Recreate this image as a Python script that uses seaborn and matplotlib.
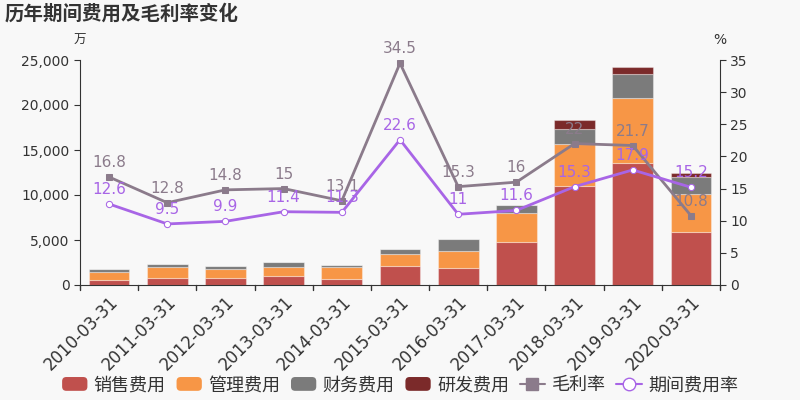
import numpy as np
import pandas as pd
import matplotlib
matplotlib.use("Agg")
import matplotlib.pyplot as plt
import seaborn as sns
from matplotlib.patches import FancyBboxPatch
from matplotlib.lines import Line2D
from matplotlib.legend_handler import HandlerPatch

sns.set_style("white")
plt.rcParams['font.family'] = ['DejaVu Sans', 'Noto Sans CJK SC']

categories = ["2010-03-31", "2011-03-31", "2012-03-31", "2013-03-31", "2014-03-31",
              "2015-03-31", "2016-03-31", "2017-03-31", "2018-03-31", "2019-03-31", "2020-03-31"]
sales_exp = [600, 810, 810, 1030, 670, 2140, 1930, 4810, 11000, 13590, 5890]
admin_exp = [890, 1190, 1000, 970, 1300, 1330, 1850, 3150, 4670, 7160, 4220]
fin_exp = [260, 330, 250, 520, 220, 560, 1330, 930, 1630, 2700, 1850]
rd_exp = [0, 0, 0, 0, 0, 0, 0, 0, 1030, 740, 520]
gross_margin = [16.8, 12.8, 14.8, 15, 13.1, 34.5, 15.3, 16, 22, 21.7, 10.8]
period_rate = [12.6, 9.5, 9.9, 11.4, 11.3, 22.6, 11, 11.6, 15.3, 17.9, 15.2]

series_names = ["销售费用", "管理费用", "财务费用", "研发费用"]
series_vals = [sales_exp, admin_exp, fin_exp, rd_exp]
colors = ["#c0504d", "#f79646", "#7b7b7b", "#7b2a2a"]
gm_color = "#8b7b8b"
pr_color = "#a865e6"
bg = "#f8f8f8"

fig = plt.figure(figsize=(8, 4), dpi=100, facecolor=bg)
ax = fig.add_axes([0.1, 0.2875, 0.8, 0.5625], facecolor=bg)

bottom = np.zeros(len(categories))
for name, vals, c in zip(series_names, series_vals, colors):
    df = pd.DataFrame({"cat": categories, "val": vals})
    sns.barplot(data=df, x="cat", y="val", bottom=bottom, color=c, width=0.7,
                ax=ax, saturation=1, edgecolor=(1, 1, 1, 0.35), linewidth=0.8)
    bottom = bottom + np.array(vals)

ax.set_xlim(-0.5, len(categories) - 0.5)
ax.set_ylim(0, 25000)
ax.set_yticks(np.arange(0, 25001, 5000))
ax.set_yticklabels([f"{v:,}" for v in range(0, 25001, 5000)], fontsize=10, color="#333333")
ax.set_xticks(np.arange(len(categories)))
ax.set_xticklabels(categories, rotation=45, ha="right", rotation_mode="anchor",
                   fontsize=12, color="#333333")
ax.tick_params(axis="x", length=0, pad=6)
ax.tick_params(axis="y", length=4, color="#333333", direction="out", left=True)
for b in np.arange(-0.5, len(categories), 1.0):
    ax.plot([b, b], [0, -0.02], transform=ax.get_xaxis_transform(), color="#333333",
            lw=1, clip_on=False)
ax.set_xlabel("")
ax.set_ylabel("")
for s in ["top", "right"]:
    ax.spines[s].set_visible(False)
ax.spines["left"].set_color("#333333")
ax.spines["bottom"].set_color("#333333")

ax2 = ax.twinx()
ax2.set_ylim(0, 35)
ax2.set_yticks(np.arange(0, 36, 5))
ax2.tick_params(axis="y", length=4, color="#333333", labelsize=10, labelcolor="#333333", right=True)
for s in ["top", "left", "bottom"]:
    ax2.spines[s].set_visible(False)
ax2.spines["right"].set_color("#333333")

x = np.arange(len(categories))
sns.lineplot(x=x, y=gross_margin, ax=ax2, color=gm_color, lw=2, marker="s",
             markersize=4.5, markeredgecolor=gm_color, markerfacecolor=gm_color, zorder=5)
sns.lineplot(x=x, y=period_rate, ax=ax2, color=pr_color, lw=2, marker="o",
             markersize=4.5, markerfacecolor="white", markeredgecolor=pr_color, zorder=6)
for xi, v in zip(x, gross_margin):
    ax2.annotate(f"{v:g}", (xi, v), xytext=(0, 5), textcoords="offset points",
                 ha="center", va="bottom", fontsize=11, color=gm_color, zorder=7)
for xi, v in zip(x, period_rate):
    ax2.annotate(f"{v:g}", (xi, v), xytext=(0, 5), textcoords="offset points",
                 ha="center", va="bottom", fontsize=11, color=pr_color, zorder=7)
ax2.set_xlim(-0.5, len(categories) - 0.5)

fig.text(0.006, 0.965, "历年期间费用及毛利率变化", fontsize=14, fontweight="bold",
         color="#333333", va="center", ha="left")
fig.text(0.1, 0.9, "万", fontsize=9, color="#333333", ha="center", va="center")
fig.text(0.9, 0.9, "%", fontsize=10, color="#333333", ha="center", va="center")


class RoundHandler(HandlerPatch):
    def create_artists(self, legend, orig_handle, xdescent, ydescent, width, height, fontsize, trans):
        p = FancyBboxPatch((-xdescent, -ydescent), width, height,
                           boxstyle="round,pad=0,rounding_size=3",
                           facecolor=orig_handle.get_facecolor(), edgecolor="none",
                           transform=trans)
        return [p]


handles = [FancyBboxPatch((0, 0), 1, 1, facecolor=c) for c in colors]
handles += [Line2D([], [], color=gm_color, marker="s", markersize=8, lw=1.5),
            Line2D([], [], color=pr_color, marker="o", markersize=9, lw=1.5,
                   markerfacecolor="white")]
labels = series_names + ["毛利率", "期间费用率"]
fig.legend(handles, labels, loc="center", bbox_to_anchor=(0.5, 0.037), ncol=6,
           frameon=False, fontsize=13, handlelength=1.4, handleheight=0.8,
           columnspacing=0.6, handletextpad=0.35,
           handler_map={FancyBboxPatch: RoundHandler()}, labelcolor="#333333")

fig.savefig("out.png", dpi=100, facecolor=bg)
